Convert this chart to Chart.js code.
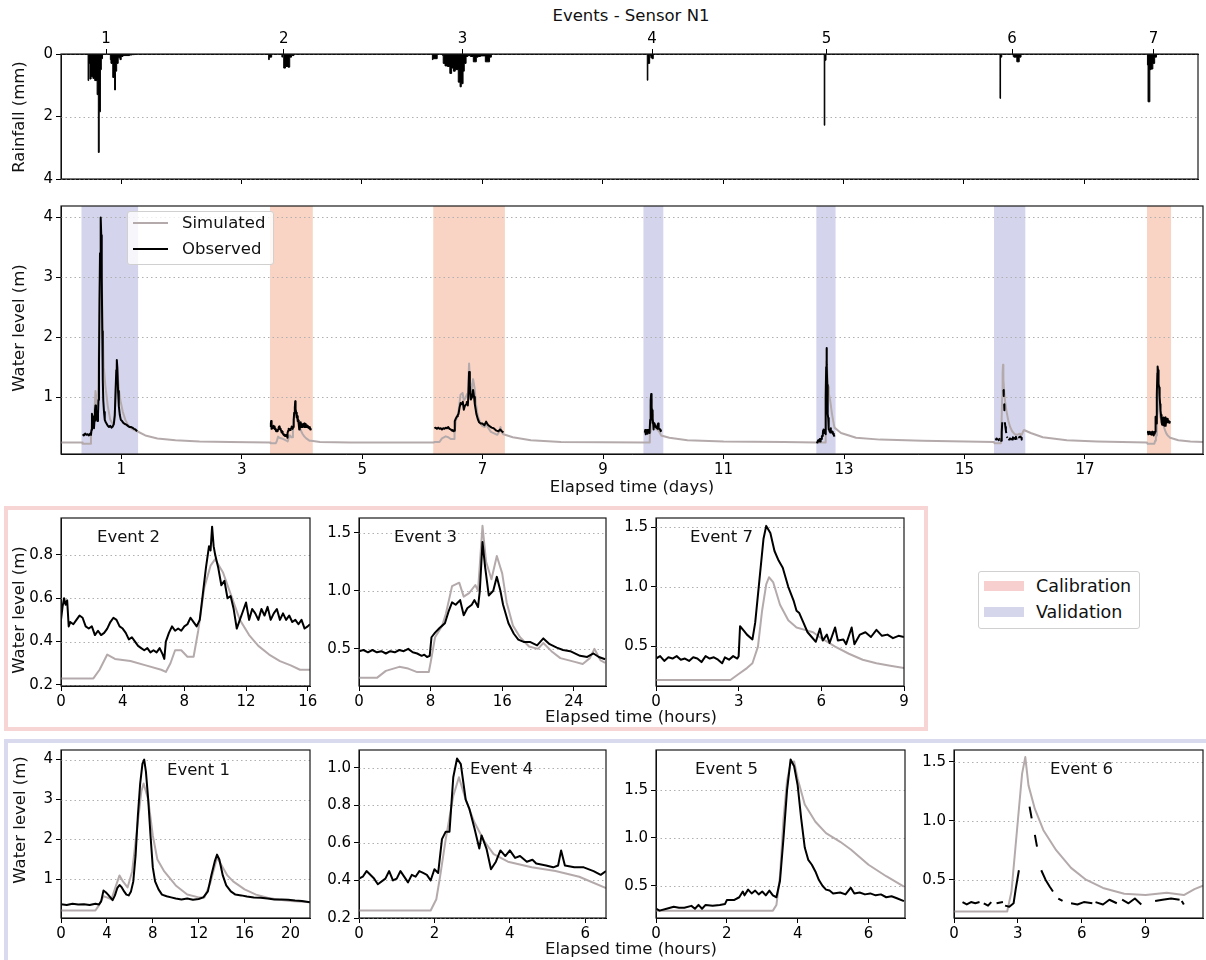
<!DOCTYPE html>
<html><head><meta charset="utf-8">
<script src="https://cdn.jsdelivr.net/npm/chart.js@4.4.1/dist/chart.umd.min.js"></script>
<style>
html,body{margin:0;padding:0;background:#fff;}
body{position:relative;width:1206px;height:960px;overflow:hidden;font-family:"DejaVu Sans",sans-serif;color:#000;}
.txt{position:absolute;white-space:nowrap;font-size:16.5px;line-height:20px;color:#111;}
.frame{position:absolute;box-sizing:border-box;}
canvas{position:absolute;}
</style></head><body>
<div class="frame" style="left:4px;top:506px;width:924px;height:225px;border:4px solid #f7d5d5;"></div>
<div class="frame" style="left:4px;top:739px;width:1215px;height:240px;border:4px solid #dadaee;"></div>
<script>
// ---------------- DATA ----------------
const eventIds = [1, 2, 3, 4, 5, 6, 7];
const eventTypes = ['val', 'cal', 'cal', 'val', 'val', 'val', 'cal'];
const eventStartDays = [0.36, 3.48, 6.2, 9.69, 12.55, 15.5, 18.04];
const shadeStartDays = [0.34, 3.47, 6.18, 9.67, 12.54, 15.49, 18.03];
const shadeEndDays = [1.28, 4.18, 7.37, 10.0, 12.86, 16.01, 18.43];
const rainEventDays = [0.75, 3.7, 6.67, 9.82, 12.72, 15.8, 18.15];
const dayTicks = [1, 3, 5, 7, 9, 11, 13, 15, 17];

// rainfall [day, mm]
const rainfall = [[0,0],[0.45,0],[0.46,0.85],[0.48,0.3],[0.5,0.8],[0.53,0.72],[0.56,0.78],[0.6,0.85],[0.62,1.3],[0.635,3.15],[0.655,1.85],[0.67,0.5],[0.69,0.15],[0.71,0],
 [0.82,0],[0.83,0.18],[0.86,0.3],[0.89,0.75],[0.905,1.15],[0.925,0.55],[0.95,0.3],[0.98,0.12],[1.0,0.18],[1.03,0.08],[1.08,0.05],[1.14,0.05],[1.18,0.03],[1.22,0.02],[1.26,0],
 [3.45,0],[3.46,0.18],[3.5,0.1],[3.53,0],[3.67,0],[3.68,0.1],[3.7,0],[3.73,0.45],[3.77,0.4],[3.8,0.42],[3.83,0.1],[3.87,0.05],[3.9,0],
 [6.17,0],[6.18,0.18],[6.25,0.15],[6.28,0],[6.34,0],[6.35,0.05],[6.38,0.3],[6.42,0.38],[6.46,0.4],[6.49,0.62],[6.52,0.45],[6.55,0.55],[6.6,0.5],[6.63,0.9],[6.65,1.05],[6.68,0.95],[6.7,0.55],[6.73,0.3],[6.76,0.08],[6.8,0.05],[6.85,0.08],[6.9,0.25],[6.93,0.1],[6.97,0.08],[7.05,0.06],[7.12,0.25],[7.15,0.1],[7.18,0],
 [9.74,0],[9.75,0.84],[9.78,0.3],[9.8,0.05],[9.82,0.12],[9.84,0.15],[9.86,0],
 [12.68,0],[12.69,2.28],[12.71,0.2],[12.73,0],
 [15.6,0],[15.61,1.42],[15.63,0.1],[15.65,0],[15.82,0],[15.83,0.08],[15.88,0.1],[15.92,0.25],[15.95,0.1],[15.98,0],
 [18.05,0],[18.06,0.35],[18.09,1.53],[18.11,0.5],[18.14,0.48],[18.17,0.3],[18.2,0.1],[18.22,0],[18.9,0]];

// events: [hours, water level m]
const e1Obs = [[0,0.38],[0.5,0.36],[1,0.39],[1.5,0.37],[2,0.38],[2.5,0.36],[3,0.39],[3.3,0.37],[3.5,0.45],[3.7,0.72],[3.9,0.68],[4.1,0.62],[4.3,0.55],[4.5,0.48],[4.7,0.6],[4.9,0.78],[5.1,0.86],[5.3,0.8],[5.5,0.7],[5.7,0.62],[5.9,0.6],[6.1,0.7],[6.3,0.95],[6.5,1.6],[6.7,2.6],[6.9,3.4],[7.1,3.9],[7.25,4.0],[7.4,3.7],[7.6,3.0],[7.8,2.1],[8.0,1.3],[8.2,0.95],[8.5,0.75],[8.8,0.62],[9.2,0.58],[9.6,0.55],[10,0.52],[10.5,0.5],[11,0.52],[11.5,0.49],[12,0.51],[12.4,0.55],[12.8,0.7],[13.1,1.1],[13.4,1.45],[13.6,1.62],[13.8,1.5],[14.1,1.1],[14.4,0.85],[14.8,0.7],[15.2,0.62],[15.7,0.6],[16.2,0.57],[16.8,0.55],[17.4,0.54],[18,0.52],[18.6,0.5],[19.2,0.5],[19.8,0.49],[20.4,0.47],[21,0.46],[21.7,0.43]];
const e1Sim = [[0,0.22],[3,0.22],[3.3,0.35],[3.7,0.58],[4.0,0.55],[4.4,0.5],[4.8,0.85],[5.1,1.1],[5.4,0.95],[5.8,0.8],[6.2,1.2],[6.6,2.2],[7.0,3.2],[7.2,3.4],[7.6,3.0],[8.0,2.1],[8.4,1.5],[9.0,1.2],[10,0.85],[11,0.62],[12,0.55],[12.5,0.55],[13,0.9],[13.6,1.55],[14,1.35],[14.5,1.1],[15,0.95],[16,0.75],[17,0.62],[18,0.54],[19,0.49],[20,0.46],[21.7,0.43]];
const e2Obs = [[0,0.5],[0.1,0.56],[0.2,0.6],[0.3,0.57],[0.4,0.59],[0.5,0.47],[0.6,0.49],[0.8,0.48],[1.0,0.5],[1.2,0.52],[1.4,0.51],[1.6,0.47],[1.8,0.46],[2.0,0.47],[2.2,0.43],[2.4,0.45],[2.6,0.43],[2.8,0.44],[3.0,0.46],[3.2,0.49],[3.4,0.51],[3.6,0.5],[3.8,0.47],[4.0,0.46],[4.2,0.44],[4.4,0.41],[4.6,0.42],[4.8,0.4],[5.0,0.38],[5.2,0.37],[5.4,0.36],[5.6,0.37],[5.8,0.35],[6.0,0.36],[6.2,0.35],[6.4,0.37],[6.6,0.34],[6.7,0.32],[6.8,0.4],[7.0,0.44],[7.2,0.47],[7.4,0.45],[7.6,0.46],[7.8,0.45],[8.0,0.47],[8.2,0.48],[8.4,0.51],[8.6,0.49],[8.8,0.47],[9.0,0.5],[9.2,0.62],[9.4,0.74],[9.6,0.84],[9.7,0.82],[9.8,0.93],[9.9,0.84],[10.0,0.8],[10.2,0.74],[10.4,0.66],[10.6,0.68],[10.8,0.6],[11.0,0.61],[11.2,0.55],[11.4,0.46],[11.6,0.5],[11.8,0.54],[12.0,0.58],[12.2,0.5],[12.4,0.55],[12.6,0.53],[12.8,0.5],[13.0,0.55],[13.2,0.52],[13.4,0.56],[13.6,0.5],[13.8,0.53],[14.0,0.55],[14.2,0.5],[14.4,0.53],[14.6,0.5],[14.8,0.52],[15.0,0.49],[15.2,0.5],[15.4,0.48],[15.6,0.5],[15.8,0.46],[16.0,0.47],[16.15,0.48]];
const e2Sim = [[0,0.23],[2.1,0.23],[2.5,0.27],[3.0,0.34],[3.5,0.32],[4.5,0.31],[5.5,0.29],[6.5,0.27],[6.8,0.26],[7.1,0.3],[7.4,0.36],[7.8,0.36],[8.2,0.33],[8.6,0.33],[8.9,0.45],[9.3,0.65],[9.7,0.75],[10.0,0.78],[10.5,0.72],[11.0,0.62],[11.6,0.5],[12.2,0.43],[12.8,0.38],[13.5,0.34],[14.2,0.31],[14.9,0.29],[15.5,0.27],[16.15,0.27]];
const e3Obs = [[0,0.48],[0.5,0.49],[1,0.47],[1.5,0.49],[2,0.47],[2.5,0.48],[3,0.46],[3.5,0.48],[4,0.47],[4.5,0.49],[5,0.48],[5.5,0.5],[6,0.47],[6.5,0.46],[7,0.44],[7.3,0.45],[7.6,0.43],[7.9,0.44],[8.1,0.6],[8.5,0.64],[9.0,0.68],[9.3,0.7],[9.6,0.72],[10.0,0.82],[10.4,0.9],[10.8,0.88],[11.3,0.92],[11.7,0.79],[12.1,0.85],[12.6,0.88],[12.9,0.92],[13.3,0.86],[13.5,1.0],[13.8,1.42],[14.1,1.2],[14.5,0.96],[15.0,1.0],[15.4,1.12],[15.8,1.0],[16.1,0.88],[16.7,0.72],[17.3,0.63],[17.8,0.58],[18.4,0.56],[19.1,0.56],[19.9,0.53],[20.6,0.59],[21.3,0.54],[22.1,0.51],[22.8,0.49],[23.6,0.48],[24.7,0.44],[25.5,0.43],[26.2,0.46],[26.8,0.43],[27.5,0.41]];
const e3Sim = [[0,0.25],[2,0.25],[3,0.31],[4.5,0.345],[5.5,0.33],[6.5,0.3],[7.8,0.3],[8.0,0.38],[8.5,0.6],[9.3,0.7],[9.7,0.8],[10.4,1.04],[11.2,1.07],[11.7,0.95],[12.3,0.98],[13.0,1.05],[13.3,1.0],[13.8,1.56],[14.2,1.25],[14.8,1.1],[15.4,1.3],[16.0,1.15],[16.5,0.9],[17.2,0.7],[18.0,0.6],[19.0,0.52],[20.0,0.5],[20.6,0.55],[21.5,0.48],[22.5,0.42],[24,0.39],[25,0.37],[25.8,0.42],[26.3,0.5],[27,0.4],[27.5,0.38]];
const e4Obs = [[0,0.41],[0.1,0.42],[0.2,0.45],[0.4,0.41],[0.5,0.38],[0.7,0.41],[0.8,0.45],[0.9,0.4],[1.0,0.41],[1.1,0.45],[1.3,0.39],[1.4,0.43],[1.5,0.42],[1.6,0.45],[1.7,0.44],[1.8,0.43],[1.9,0.4],[2.0,0.46],[2.1,0.44],[2.2,0.62],[2.3,0.66],[2.4,0.66],[2.5,0.95],[2.6,1.05],[2.7,1.02],[2.83,0.83],[2.93,0.78],[3.06,0.68],[3.19,0.57],[3.25,0.64],[3.38,0.57],[3.5,0.46],[3.63,0.5],[3.75,0.56],[3.88,0.53],[4.0,0.56],[4.14,0.52],[4.27,0.53],[4.45,0.5],[4.6,0.51],[4.7,0.49],[4.96,0.48],[5.15,0.47],[5.28,0.48],[5.36,0.56],[5.46,0.48],[5.71,0.47],[5.96,0.47],[6.22,0.45],[6.41,0.43],[6.55,0.45]];
const e4Sim = [[0,0.24],[1.9,0.24],[2.05,0.3],[2.15,0.42],[2.3,0.62],[2.5,0.85],[2.65,0.95],[2.83,0.83],[3.06,0.71],[3.32,0.61],[3.57,0.54],[3.95,0.5],[4.58,0.47],[5.21,0.45],[5.84,0.42],[6.55,0.36]];
const e5Obs = [[0,0.26],[0.1,0.24],[0.3,0.26],[0.5,0.28],[0.65,0.27],[0.8,0.27],[1.0,0.29],[1.1,0.26],[1.2,0.3],[1.3,0.26],[1.4,0.3],[1.6,0.29],[1.8,0.3],[1.95,0.31],[2.0,0.35],[2.2,0.35],[2.35,0.38],[2.45,0.44],[2.5,0.4],[2.6,0.46],[2.7,0.42],[2.8,0.45],[2.9,0.41],[3.0,0.44],[3.1,0.4],[3.2,0.45],[3.3,0.4],[3.4,0.38],[3.5,0.55],[3.6,1.0],[3.7,1.5],[3.8,1.82],[3.9,1.75],[4.0,1.55],[4.1,1.2],[4.2,0.9],[4.3,0.77],[4.4,0.72],[4.5,0.65],[4.6,0.56],[4.7,0.5],[4.8,0.46],[4.9,0.45],[5.0,0.42],[5.2,0.43],[5.35,0.41],[5.5,0.48],[5.6,0.42],[5.75,0.43],[5.9,0.41],[6.05,0.42],[6.2,0.4],[6.35,0.41],[6.5,0.38],[6.65,0.39],[6.8,0.37],[7.0,0.34]];
const e5Sim = [[0,0.24],[3.3,0.24],[3.4,0.3],[3.5,0.6],[3.6,1.2],[3.7,1.6],[3.8,1.78],[3.9,1.8],[4.0,1.62],[4.2,1.35],[4.5,1.17],[4.8,1.05],[5.2,0.96],[5.5,0.88],[6.0,0.72],[6.5,0.6],[7.0,0.49]];
const e6Obs = [[0.4,0.31],[0.6,0.29],[0.8,0.31],[1.0,0.3],[1.2,0.31],[1.3,null],[1.4,0.3],[1.6,0.28],[1.75,0.31],[1.9,null],[2.0,0.3],[2.3,0.31],[2.35,null],[2.4,0.28],[2.6,0.27],[2.8,0.3],[2.9,0.42],[3.05,0.58],[3.3,null],[3.55,1.12],[3.65,1.02],[3.7,null],[3.8,0.88],[3.9,0.78],[4.0,null],[4.1,0.58],[4.3,0.5],[4.5,0.44],[4.65,0.4],[4.8,null],[4.9,0.34],[5.1,0.32],[5.3,null],[5.5,0.3],[5.8,0.29],[6.1,0.31],[6.5,0.3],[6.6,null],[6.65,0.31],[7.0,0.29],[7.3,0.33],[7.65,0.3],[7.8,null],[7.9,0.33],[8.2,0.3],[8.5,0.34],[8.8,0.29],[9.1,null],[9.45,0.32],[9.8,0.33],[10.2,0.34],[10.6,0.33],[10.65,null],[10.7,0.32],[10.8,0.29]];
const e6Sim = [[0,0.23],[2.5,0.23],[2.7,0.4],[3.0,1.0],[3.2,1.4],[3.35,1.54],[3.5,1.3],[3.8,1.1],[4.2,0.92],[4.8,0.75],[5.5,0.6],[6.2,0.5],[7,0.43],[8,0.38],[9,0.37],[10,0.39],[10.8,0.37],[11.3,0.42],[11.7,0.45]];
const e7Obs = [[0,0.4],[0.15,0.42],[0.3,0.38],[0.45,0.41],[0.6,0.4],[0.75,0.42],[0.9,0.39],[1.05,0.4],[1.2,0.38],[1.35,0.41],[1.5,0.4],[1.65,0.37],[1.8,0.42],[1.95,0.4],[2.1,0.41],[2.25,0.39],[2.4,0.36],[2.5,0.41],[2.65,0.39],[2.8,0.42],[2.95,0.4],[3.0,0.42],[3.05,0.67],[3.2,0.63],[3.3,0.6],[3.5,0.56],[3.6,0.7],[3.75,1.05],[3.9,1.4],[4.0,1.51],[4.15,1.45],[4.3,1.3],[4.45,1.22],[4.6,1.16],[4.8,1.0],[5.0,0.88],[5.1,0.8],[5.2,0.78],[5.35,0.7],[5.5,0.62],[5.65,0.58],[5.8,0.54],[5.95,0.65],[6.05,0.55],[6.2,0.6],[6.3,0.53],[6.5,0.66],[6.6,0.55],[6.8,0.56],[6.9,0.52],[7.1,0.66],[7.2,0.52],[7.4,0.6],[7.6,0.62],[7.8,0.58],[8.0,0.64],[8.2,0.59],[8.4,0.6],[8.6,0.57],[8.8,0.59],[9.0,0.58]];
const e7Sim = [[0,0.22],[2.7,0.22],[3.0,0.27],[3.3,0.32],[3.5,0.36],[3.7,0.5],[3.85,0.8],[4.0,1.02],[4.1,1.08],[4.25,1.04],[4.5,0.85],[4.8,0.72],[5.1,0.66],[5.4,0.64],[5.7,0.62],[6.0,0.57],[6.5,0.5],[7.0,0.44],[7.5,0.39],[8.0,0.36],[8.5,0.34],[9.0,0.32]];
// simulated recession between events [day, m]
const simBetween = [[0,0.24],[0.35,0.24],[1.4,0.36],[1.6,0.31],[1.9,0.28],[2.3,0.26],[2.8,0.25],[3.47,0.24],[4.3,0.25],[4.8,0.24],[6.19,0.24],[7.5,0.33],[7.8,0.28],[8.3,0.25],[9.68,0.24],[10.1,0.32],[10.4,0.28],[11,0.26],[12,0.25],[12.54,0.24],[12.95,0.4],[13.2,0.32],[13.6,0.29],[14.3,0.27],[15.49,0.25],[16.1,0.4],[16.3,0.33],[16.7,0.28],[17.2,0.26],[18.03,0.24],[18.55,0.28],[18.75,0.26],[18.96,0.25]];

const eventObs = [e1Obs, e2Obs, e3Obs, e4Obs, e5Obs, e6Obs, e7Obs];
const eventSim = [e1Sim, e2Sim, e3Sim, e4Sim, e5Sim, e6Sim, e7Sim];
const eventHourMax = [21.7, 16.15, 27.6, 6.55, 7.03, 11.7, 9.0];
const eventYRange = [[0.034, 4.24], [0.195, 0.97], [0.18, 1.627], [0.2, 1.095], [0.163, 1.92], [0.175, 1.6], [0.17, 1.576]];
const eventXTicks = [[0,4,8,12,16,20],[0,4,8,12,16],[0,8,16,24],[0,2,4,6],[0,2,4,6],[0,3,6,9],[0,3,6,9]];
const eventYTicks = [[1,2,3,4],[0.2,0.4,0.6,0.8],[0.5,1.0,1.5],[0.2,0.4,0.6,0.8,1.0],[0.5,1.0,1.5],[0.5,1.0,1.5],[0.5,1.0,1.5]];

// ---------------- STYLE ----------------
const FONT = '"DejaVu Sans", sans-serif';
const OBS_C = '#000000', SIM_C = '#b4aaab';
const CAL_C = '#f9d4c4', VAL_C = '#d4d5ec';

function addText(t, x, y, opt = {}) {
  const d = document.createElement('div');
  d.className = 'txt';
  d.textContent = t;
  d.style.left = x + 'px'; d.style.top = y + 'px';
  if (opt.size) d.style.fontSize = opt.size + 'px';
  let tr = '';
  if (opt.center) tr += 'translate(-50%,-50%) ';
  else tr += 'translate(0,-50%) ';
  if (opt.rot) tr += 'rotate(-90deg)';
  d.style.transform = tr;
  document.body.appendChild(d);
  return d;
}

function toXY(arr, f = (x) => x) { return arr.map(p => ({ x: f(p[0]), y: p[1] })); }

function mk(box, cfg) {
  const padL = cfg.padL || 50, padR = 14, padT = cfg.padT || 8, padB = cfg.padB || 28;
  const W = Math.round(box.r - box.l) + padL + padR;
  const H = Math.round(box.b - box.t) + padT + padB;
  const cv = document.createElement('canvas');
  cv.width = W; cv.height = H;
  cv.style.left = (box.l - padL) + 'px'; cv.style.top = (box.t - padT) + 'px';
  cv.style.width = W + 'px'; cv.style.height = H + 'px';
  document.body.appendChild(cv);
  const tickFont = { family: FONT, size: 15 };
  const gridOpt = { drawOnChartArea: false, drawTicks: true, tickLength: 5, tickColor: '#000', tickWidth: 1 };
  const borderOpt = { display: true, color: '#000', width: 1 };
  const scales = {
    x: {
      type: 'linear', position: 'bottom', min: cfg.xmin, max: cfg.xmax,
      afterBuildTicks: s => { s.ticks = cfg.xticks.map(v => ({ value: v })); },
      afterFit: s => { s.height = padB; },
      ticks: { display: cfg.xLabels !== false, font: tickFont, color: '#000', padding: 2, maxRotation: 0, minRotation: 0, autoSkip: false, callback: v => String(v) },
      grid: gridOpt, border: borderOpt
    },
    y: {
      type: 'linear', position: 'left', min: cfg.ymin, max: cfg.ymax, reverse: !!cfg.reverse,
      afterBuildTicks: s => { s.ticks = cfg.yticks.map(v => ({ value: v })); },
      afterFit: s => { s.width = padL; },
      ticks: { font: tickFont, color: '#000', padding: 3, callback: v => cfg.yfmt ? cfg.yfmt(v) : String(v) },
      grid: gridOpt, border: borderOpt
    }
  };
  if (cfg.topTicks) {
    scales.xTop = {
      type: 'linear', position: 'top', min: cfg.xmin, max: cfg.xmax,
      afterBuildTicks: s => { s.ticks = cfg.topTicks.map(v => ({ value: v })); },
      afterFit: s => { s.height = padT; },
      ticks: { font: tickFont, color: '#000', padding: 1, maxRotation: 0, minRotation: 0, autoSkip: false, callback: (v, i) => cfg.topLabels[i] },
      grid: gridOpt, border: borderOpt
    };
  }
  const deco = {
    id: 'deco',
    beforeDatasetsDraw(chart) {
      const { ctx, chartArea: a } = chart;
      const xs = chart.scales.x, ys = chart.scales.y;
      ctx.save();
      (cfg.bands || []).forEach(b => {
        const x1 = xs.getPixelForValue(b.s), x2 = xs.getPixelForValue(b.e);
        ctx.fillStyle = b.c;
        ctx.fillRect(x1, a.top, x2 - x1, a.bottom - a.top);
      });
      ctx.strokeStyle = '#b0b0b0'; ctx.lineWidth = 1; ctx.setLineDash([1.5, 3]);
      cfg.yticks.forEach(v => {
        const py = Math.round(ys.getPixelForValue(v)) + 0.5;
        ctx.beginPath(); ctx.moveTo(a.left, py); ctx.lineTo(a.right, py); ctx.stroke();
      });
      ctx.restore();
    },
    afterDraw(chart) {
      const { ctx, chartArea: a } = chart;
      ctx.save();
      ctx.strokeStyle = '#1a1a1a'; ctx.lineWidth = 1.2;
      ctx.strokeRect(a.left, a.top, a.right - a.left, a.bottom - a.top);
      ctx.restore();
    }
  };
  return new Chart(cv, {
    type: 'line',
    data: { datasets: cfg.datasets },
    options: {
      responsive: false, animation: false, devicePixelRatio: 1,
      layout: { padding: { left: 0, right: padR, top: cfg.topTicks ? 0 : padT, bottom: 0 } },
      plugins: { legend: { display: false }, tooltip: { enabled: false } },
      elements: { point: { radius: 0 }, line: { tension: 0 } },
      scales
    },
    plugins: [deco]
  });
}

function obsDs(data, w = 2) { return { data, borderColor: OBS_C, borderWidth: w, pointRadius: 0, spanGaps: false, fill: false, borderJoinStyle: 'round' }; }
function simDs(data, w = 2) { return { data, borderColor: SIM_C, borderWidth: w, pointRadius: 0, spanGaps: false, fill: false, borderJoinStyle: 'round' }; }

// ---------------- RAINFALL PANEL ----------------
mk({ l: 61, t: 54, r: 1198, b: 181 }, {
  padL: 50, padT: 26, padB: 10,
  xmin: 0, xmax: 18.89, ymin: 0, ymax: 4, reverse: true,
  xticks: dayTicks, xLabels: false, yticks: [0, 2, 4],
  topTicks: rainEventDays, topLabels: eventIds.map(String),
  datasets: [{ data: toXY(rainfall), borderColor: '#000', backgroundColor: '#000', borderWidth: 1, fill: 'origin', stepped: 'after', pointRadius: 0 }]
});

// ---------------- MAIN WATER LEVEL PANEL ----------------
const mainObs = [];
eventObs.forEach((ev, i) => {
  ev.forEach(p => mainObs.push({ x: eventStartDays[i] + p[0] / 24, y: p[1] }));
  mainObs.push({ x: eventStartDays[i] + eventHourMax[i] / 24 + 0.01, y: null });
});
const mainSim = [];
eventSim.forEach((ev, i) => ev.forEach(p => mainSim.push({ x: eventStartDays[i] + p[0] / 24, y: p[1] })));
simBetween.forEach(p => mainSim.push({ x: p[0], y: p[1] }));
mainSim.sort((a, b) => a.x - b.x);

mk({ l: 61, t: 202, r: 1203, b: 454 }, {
  padL: 50, padT: 8, padB: 28,
  xmin: 0, xmax: 18.96, ymin: 0.05, ymax: 4.19,
  xticks: dayTicks, yticks: [1, 2, 3, 4],
  bands: shadeStartDays.map((s, i) => ({ s, e: shadeEndDays[i], c: eventTypes[i] === 'cal' ? CAL_C : VAL_C })),
  datasets: [obsDs(mainObs, 2), simDs(mainSim, 2)]
});

// ---------------- EVENT PANELS ----------------
const panelBoxes = {
  2: { l: 61, t: 514, r: 310, b: 686 },
  3: { l: 359, t: 514, r: 606, b: 686 },
  7: { l: 656, t: 514, r: 904, b: 686 },
  1: { l: 61, t: 746, r: 310, b: 918 },
  4: { l: 359, t: 746, r: 606, b: 918 },
  5: { l: 656, t: 746, r: 905, b: 918 },
  6: { l: 954, t: 746, r: 1203, b: 918 }
};
const labelPos = { 1: [167, 770], 2: [97, 537], 3: [394, 537], 4: [470, 769], 5: [695, 769], 6: [1050, 769], 7: [690, 537] };
[2, 3, 7, 1, 4, 5, 6].forEach(id => {
  const i = id - 1;
  const yt = eventYTicks[i];
  const dec = yt.some(v => !Number.isInteger(v));
  mk(panelBoxes[id], {
    padL: id === 1 || id === 2 ? 50 : 42, padT: 8, padB: 26,
    xmin: 0, xmax: eventHourMax[i], ymin: eventYRange[i][0], ymax: eventYRange[i][1],
    xticks: eventXTicks[i], yticks: yt, yfmt: dec ? (v => v.toFixed(1)) : null,
    datasets: [obsDs(toXY(eventObs[i])), simDs(toXY(eventSim[i]))]
  });
  addText('Event ' + id, labelPos[id][0], labelPos[id][1]);
});

// ---------------- TEXTS ----------------
addText('Events - Sensor N1', 631, 16, { center: true });
addText('Rainfall (mm)', 19, 117, { center: true, rot: true });
addText('Water level (m)', 19, 328, { center: true, rot: true });
addText('Elapsed time (days)', 632, 487, { center: true });
addText('Water level (m)', 19, 610, { center: true, rot: true });
addText('Elapsed time (hours)', 631, 717, { center: true });
addText('Water level (m)', 20, 820, { center: true, rot: true });
addText('Elapsed time (hours)', 631, 949, { center: true });

// legends
(function () {
  const box = document.createElement('div');
  box.style.cssText = 'position:absolute;left:127px;top:211px;width:147px;height:54px;box-sizing:border-box;border:1px solid #d0d0d0;border-radius:3px;background:rgba(255,255,255,0.8);';
  document.body.appendChild(box);
  const items = [['Simulated', SIM_C, 223], ['Observed', OBS_C, 249]];
  items.forEach(([t, c, y]) => {
    const l = document.createElement('div');
    l.style.cssText = `position:absolute;left:133px;top:${y - 1}px;width:35px;height:2px;background:${c};`;
    document.body.appendChild(l);
    addText(t, 182, y);
  });
  const box2 = document.createElement('div');
  box2.style.cssText = 'position:absolute;left:978px;top:571px;width:162px;height:58px;box-sizing:border-box;border:1px solid #d0d0d0;border-radius:3px;background:#fff;';
  document.body.appendChild(box2);
  [['Calibration', '#f7cfcf', 586], ['Validation', '#d5d5ec', 612]].forEach(([t, c, y]) => {
    const s = document.createElement('div');
    s.style.cssText = `position:absolute;left:984px;top:${y - 5}px;width:40px;height:10px;background:${c};`;
    document.body.appendChild(s);
    addText(t, 1036, y, { size: 17.5 });
  });
})();
</script>
</body></html>
